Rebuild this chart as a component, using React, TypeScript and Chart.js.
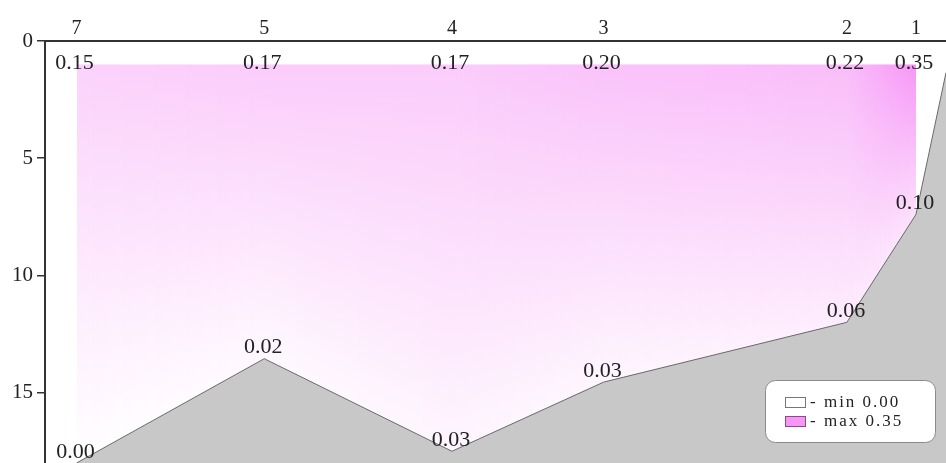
import { useEffect, useRef } from 'react';
import { Chart, registerables } from 'chart.js';

Chart.register(...registerables);

// ---- data ----
const stationNames = ['7', '5', '4', '3', '2', '1'];
const stationDist = [1.05, 7.3, 13.55, 18.6, 26.7, 29.0];
const surfaceDepth = [1, 1, 1, 1, 1, 1];
const bottomDepth = [18.0, 13.55, 17.5, 14.55, 12.0, 7.4];
const surfaceValues = [0.15, 0.17, 0.17, 0.2, 0.22, 0.35];
const bottomValues = [0.0, 0.02, 0.03, 0.03, 0.06, 0.1];
const terrainDist = [1.05, 7.3, 13.55, 18.6, 26.7, 29.0, 30.0];
const terrainDepth = [18.0, 13.55, 17.5, 14.55, 12.0, 7.4, 1.35];
const depthTicks = [0, 5, 10, 15];
const legendLabels = ['- min 0.00', '- max 0.35'];
const valueMin = 0;
const valueMax = 0.35;

const SERIF = '"Liberation Serif", "Times New Roman", serif';
const MIN_RGB = [255, 255, 255];
const MAX_RGB = [246, 150, 246];

function colorFor(v: number): string {
  const t = Math.max(0, Math.min(1, (v - valueMin) / (valueMax - valueMin)));
  const c = MIN_RGB.map((m, i) => Math.round(m + (MAX_RGB[i] - m) * t));
  return `rgb(${c[0]},${c[1]},${c[2]})`;
}

const lerp = (a: number, b: number, t: number) => a + (b - a) * t;

const fieldPlugin = {
  id: 'field',
  beforeDatasetsDraw(chart: any) {
    const { ctx, scales } = chart;
    const xs = scales.x;
    const ys = scales.y;
    const px = stationDist.map((d) => xs.getPixelForValue(d));
    const first = Math.round(px[0]);
    const last = Math.round(px[px.length - 1]);
    ctx.save();
    for (let p = first; p < last; p++) {
      const c = p + 0.5;
      let i = 0;
      while (i < px.length - 2 && c > px[i + 1]) i++;
      const t = Math.max(0, Math.min(1, (c - px[i]) / (px[i + 1] - px[i])));
      const topY = ys.getPixelForValue(lerp(surfaceDepth[i], surfaceDepth[i + 1], t));
      const botY = ys.getPixelForValue(lerp(bottomDepth[i], bottomDepth[i + 1], t)) + 1;
      const g = ctx.createLinearGradient(0, topY, 0, botY);
      g.addColorStop(0, colorFor(lerp(surfaceValues[i], surfaceValues[i + 1], t)));
      g.addColorStop(1, colorFor(lerp(bottomValues[i], bottomValues[i + 1], t)));
      ctx.fillStyle = g;
      ctx.fillRect(p, topY, 1, botY - topY);
    }
    ctx.restore();
  },
};

const labelPlugin = {
  id: 'valueLabels',
  afterDatasetsDraw(chart: any) {
    const { ctx, scales } = chart;
    const xs = scales.x;
    const ys = scales.y;
    ctx.save();
    ctx.font = `22px ${SERIF}`;
    ctx.fillStyle = '#222';
    ctx.textAlign = 'center';
    ctx.textBaseline = 'middle';
    stationDist.forEach((d, i) => {
      const x = xs.getPixelForValue(d);
      ctx.fillText(surfaceValues[i].toFixed(2), x - 2, ys.getPixelForValue(surfaceDepth[i]) - 1);
      ctx.fillText(bottomValues[i].toFixed(2), x - 1, ys.getPixelForValue(bottomDepth[i]) - 11);
    });
    ctx.restore();
  },
};

const legendPlugin = {
  id: 'customLegend',
  afterDraw(chart: any) {
    const { ctx, chartArea } = chart;
    const w = 170;
    const h = 62;
    const bx = chartArea.right - 11 - w;
    const by = chartArea.bottom - 21 - h;
    ctx.save();
    ctx.beginPath();
    ctx.roundRect(bx + 0.5, by + 0.5, w, h, 10);
    ctx.fillStyle = '#ffffff';
    ctx.fill();
    ctx.strokeStyle = '#8a8a8a';
    ctx.lineWidth = 1;
    ctx.stroke();
    const swatch = [colorFor(valueMin), colorFor(valueMax)];
    ctx.font = `17px ${SERIF}`;
    (ctx as any).letterSpacing = '2px';
    ctx.textBaseline = 'middle';
    ctx.textAlign = 'left';
    legendLabels.forEach((lab, i) => {
      const cy = by + 23 + i * 19;
      ctx.fillStyle = swatch[i];
      ctx.fillRect(bx + 20.5, cy - 5.5, 20, 10);
      ctx.strokeStyle = i === 0 ? '#777' : '#8a4a8a';
      ctx.strokeRect(bx + 20.5, cy - 5.5, 20, 10);
      ctx.fillStyle = '#222';
      ctx.fillText(lab, bx + 45, cy);
    });
    ctx.restore();
  },
};

export default function App() {
  const ref = useRef<HTMLCanvasElement | null>(null);

  useEffect(() => {
    if (!ref.current) return;
    const chart = new Chart(ref.current, {
      type: 'line',
      data: {
        datasets: [
          {
            label: 'bottom',
            data: terrainDist.map((d, i) => ({ x: d, y: terrainDepth[i] })),
            borderColor: '#6a6a6a',
            borderWidth: 1,
            backgroundColor: '#c8c8c8',
            fill: { value: 18 },
            pointRadius: 0,
            tension: 0,
          },
        ],
      },
      options: {
        animation: false,
        responsive: true,
        maintainAspectRatio: false,
        layout: { padding: 0, autoPadding: false },
        plugins: {
          legend: { display: false },
          tooltip: { enabled: false },
        },
        scales: {
          x: {
            type: 'linear',
            position: 'top',
            min: 0,
            max: 30,
            grid: { display: false, drawTicks: false },
            border: { display: true, color: '#333', width: 2 },
            afterBuildTicks: (scale: any) => {
              scale.ticks = stationDist.map((v) => ({ value: v }));
            },
            afterFit: (scale: any) => {
              scale.height = 41;
              scale.paddingLeft = 0;
              scale.paddingRight = 0;
            },
            ticks: {
              autoSkip: false,
              maxRotation: 0,
              padding: 0,
              color: '#222',
              font: { family: SERIF, size: 20 },
              callback: (_v: any, i: number) => stationNames[i],
            },
          },
          y: {
            type: 'linear',
            reverse: true,
            min: 0,
            max: 18,
            grid: {
              display: true,
              drawOnChartArea: false,
              drawTicks: true,
              tickLength: 8,
              color: '#333',
              lineWidth: 1.5,
            },
            border: { display: true, color: '#333', width: 2 },
            afterBuildTicks: (scale: any) => {
              scale.ticks = depthTicks.map((v) => ({ value: v }));
            },
            afterFit: (scale: any) => {
              scale.width = 45;
              scale.paddingTop = 0;
              scale.paddingBottom = 0;
            },
            ticks: {
              padding: 4,
              color: '#222',
              font: { family: SERIF, size: 21 },
            },
          },
        },
      },
      plugins: [fieldPlugin, labelPlugin, legendPlugin],
    });
    return () => chart.destroy();
  }, []);

  return (
    <div style={{ position: 'fixed', left: 0, top: 0, width: 946, height: 463, background: '#fff' }}>
      <canvas ref={ref} />
    </div>
  );
}
